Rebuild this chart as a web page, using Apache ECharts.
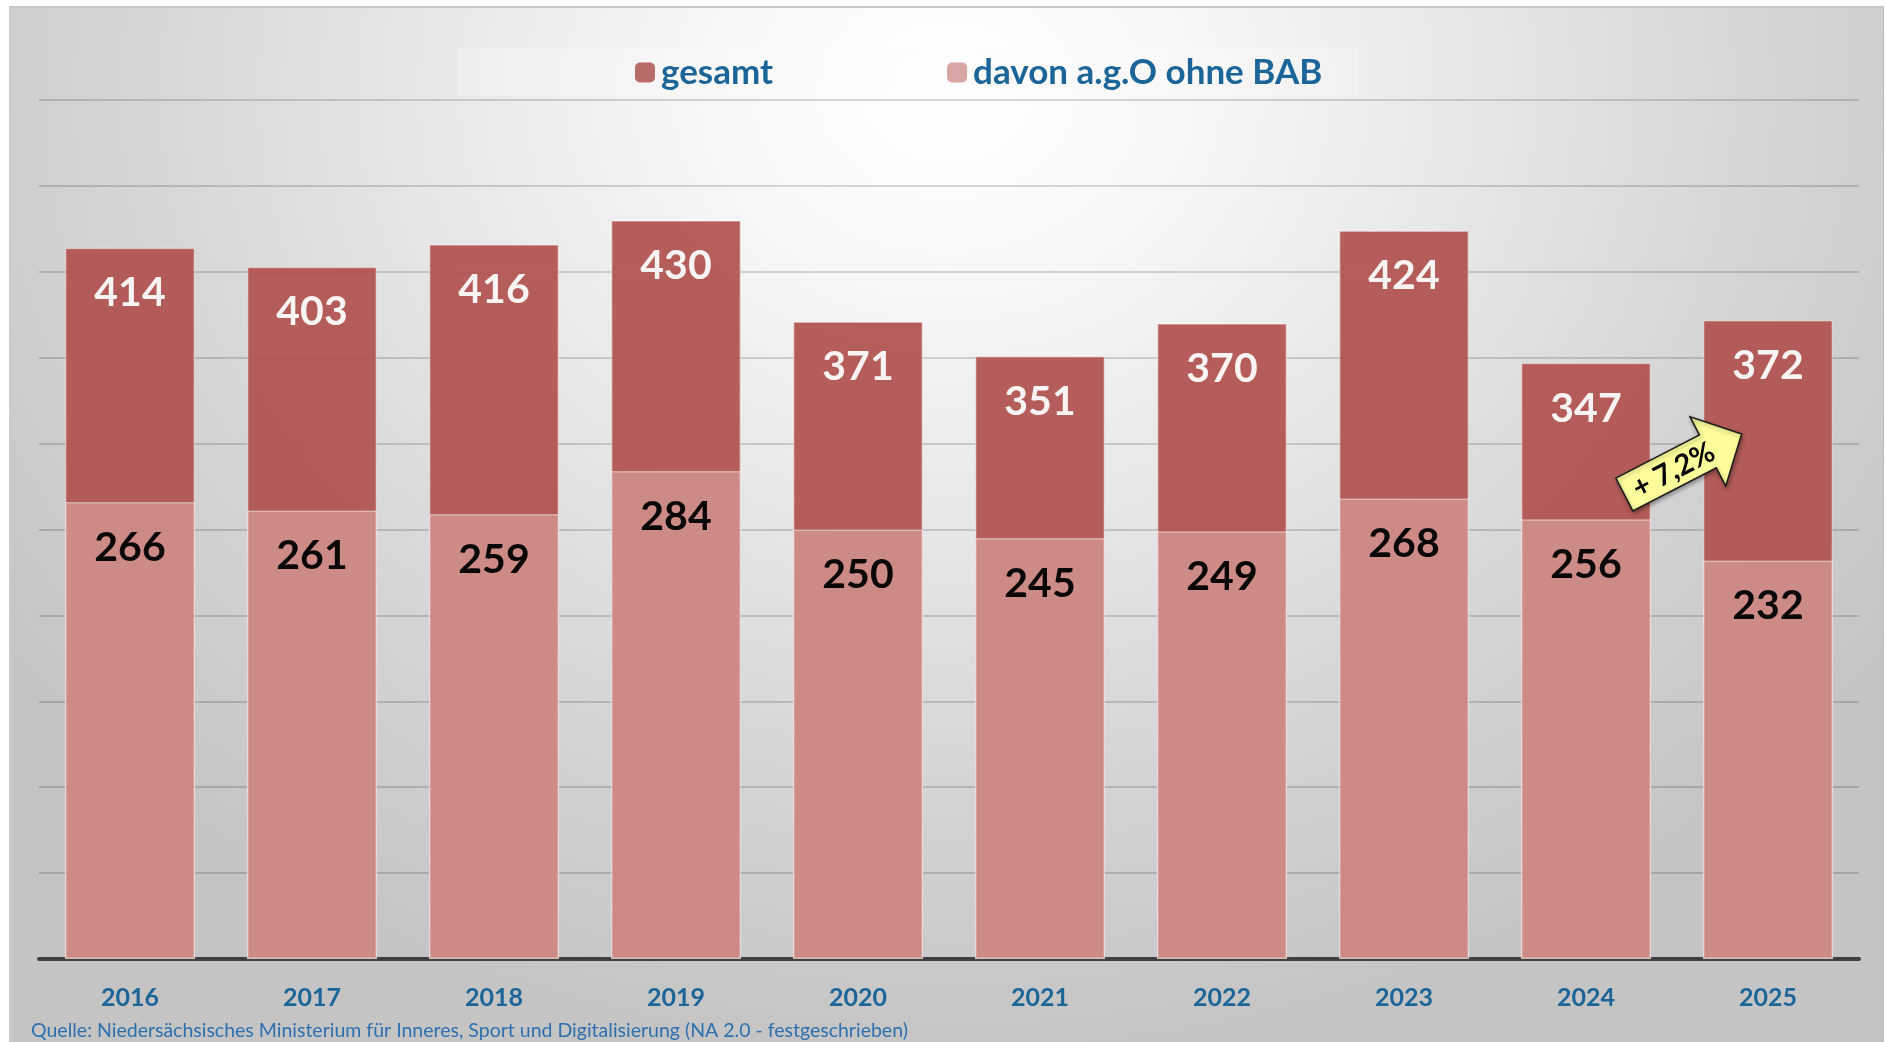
<!DOCTYPE html>
<html>
<head>
<meta charset="utf-8">
<title>gesamt / davon a.g.O ohne BAB</title>
<script src="https://cdn.jsdelivr.net/npm/echarts@6/dist/echarts.min.js"></script>
<style>
  html, body { margin: 0; padding: 0; width: 1886px; height: 1042px; overflow: hidden; background: #ffffff; }
  #frame {
    position: absolute; left: 9px; top: 6px; width: 1872px; height: 1050px;
    border-top: 2px solid #c6c6c6; border-left: 2px solid #cbcbcb; border-right: 1px solid #bdbdbd;
    background: radial-gradient(ellipse 62% 92% at 50% 8%, #ffffff 0%, #f7f7f7 20%, #e6e6e6 46%, #d5d5d5 70%, #c4c4c4 100%);
  }
  #chart { position: absolute; left: 0; top: 0; width: 1886px; height: 1042px; }
</style>
</head>
<body>
<div id="frame"></div>
<div id="chart"></div>
<script>
// data
const years = ['2016', '2017', '2018', '2019', '2020', '2021', '2022', '2023', '2024', '2025'];
const gesamt = [414, 403, 416, 430, 371, 351, 370, 424, 347, 372];
const davon = [266, 261, 259, 284, 250, 245, 249, 268, 256, 232];
const seriesNames = ['gesamt', 'davon a.g.O ohne BAB'];
const yMin = 0;
const yMax = 500;
const yStep = 50;
const changeLabel = '+ 7,2%';
const sourceNote = 'Quelle: Niedersächsisches Ministerium für Inneres, Sport und Digitalisierung (NA 2.0 - festgeschrieben)';

const blue = '#1c6598';
const font = 'Lato, "Open Sans", sans-serif';

const chart = echarts.init(document.getElementById('chart'), null, { renderer: 'canvas' });

const option = {
    backgroundColor: 'transparent',
    animation: false,
    textStyle: { fontFamily: font },
    grid: { left: 39, right: 27, top: 100, bottom: 83, containLabel: false },
    legend: {
        left: 457,
        top: 48,
        padding: [7, 37, 6, 178],
        backgroundColor: 'rgba(252,252,252,0.3)',
        itemWidth: 20,
        itemHeight: 20,
        itemGap: 174,
        textStyle: { color: blue, fontSize: 35, fontWeight: 'bold', fontFamily: font, padding: [0, 0, 0, 1] },
        data: [
            { name: seriesNames[0], itemStyle: { color: '#b3605d', borderWidth: 0 } },
            { name: seriesNames[1], itemStyle: { color: '#d6a19f', borderWidth: 0 } }
        ]
    },
    xAxis: {
        type: 'category',
        data: years,
        axisTick: { show: false },
        axisLine: { lineStyle: { color: '#404040', width: 4 } },
        axisLabel: { color: blue, fontSize: 25, fontWeight: 'bold', fontFamily: font, margin: 26 }
    },
    yAxis: {
        type: 'value',
        min: yMin,
        max: yMax,
        interval: yStep,
        axisLabel: { show: false },
        axisLine: { show: false },
        axisTick: { show: false },
        splitLine: { lineStyle: { color: 'rgba(0,0,0,0.15)', width: 2 } }
    },
    series: [
        {
            name: seriesNames[0],
            type: 'bar',
            data: gesamt,
            barCategoryGap: '28.5%',
            z: 2,
            itemStyle: { color: '#af524f', opacity: 0.93, borderColor: 'rgba(255,255,255,0.45)', borderWidth: 1.5 },
            label: {
                show: true, position: 'insideTop', distance: 25,
                color: '#ffffff', fontSize: 41, fontWeight: 'bold', fontFamily: font
            }
        },
        {
            name: seriesNames[1],
            type: 'bar',
            data: davon,
            barGap: '-100%',
            barCategoryGap: '28.5%',
            z: 3,
            itemStyle: { color: '#cf8d8b', opacity: 0.95, borderColor: 'rgba(255,255,255,0.45)', borderWidth: 1.5 },
            label: {
                show: true, position: 'insideTop', distance: 25,
                color: '#000000', fontSize: 41, fontWeight: 'bold', fontFamily: font
            }
        }
    ]
};

chart.setOption(option);

// annotation arrow between the last two years, plus the source line
function drawExtras() {
    const xa = chart.convertToPixel({ xAxisIndex: 0 }, years[years.length - 2]);
    const xb = chart.convertToPixel({ xAxisIndex: 0 }, years[years.length - 1]);
    const yc = chart.convertToPixel({ yAxisIndex: 0 }, 288);
    const cx = (xa + xb) / 2 + 6;

    const half = 66, body = 18.5, headW = 39, headBase = 28;
    chart.setOption({
        graphic: [
            {
                type: 'group',
                x: cx, y: yc,
                rotation: 27.3 * Math.PI / 180,
                z: 100,
                children: [
                    {
                        type: 'polygon',
                        z: 100,
                        shape: {
                            points: [
                                [-half, -body], [headBase, -body], [headBase, -headW], [half, 0],
                                [headBase, headW], [headBase, body], [-half, body]
                            ]
                        },
                        style: {
                            fill: '#fdfd9c', stroke: '#1a1a1a', lineWidth: 1.5,
                            shadowBlur: 4, shadowColor: 'rgba(0,0,0,0.35)', shadowOffsetX: 1, shadowOffsetY: 2
                        }
                    },
                    {
                        type: 'text',
                        z: 101,
                        x: -11, y: 1,
                        style: {
                            text: changeLabel, fill: '#000000',
                            font: 'bold 29px ' + font,
                            align: 'center', verticalAlign: 'middle'
                        }
                    }
                ]
            },
            {
                type: 'text',
                left: 31,
                top: 1021,
                z: 100,
                style: { text: sourceNote, fill: '#2e6fae', font: '19.5px ' + font }
            }
        ]
    });
}
drawExtras();
</script>
</body>
</html>
